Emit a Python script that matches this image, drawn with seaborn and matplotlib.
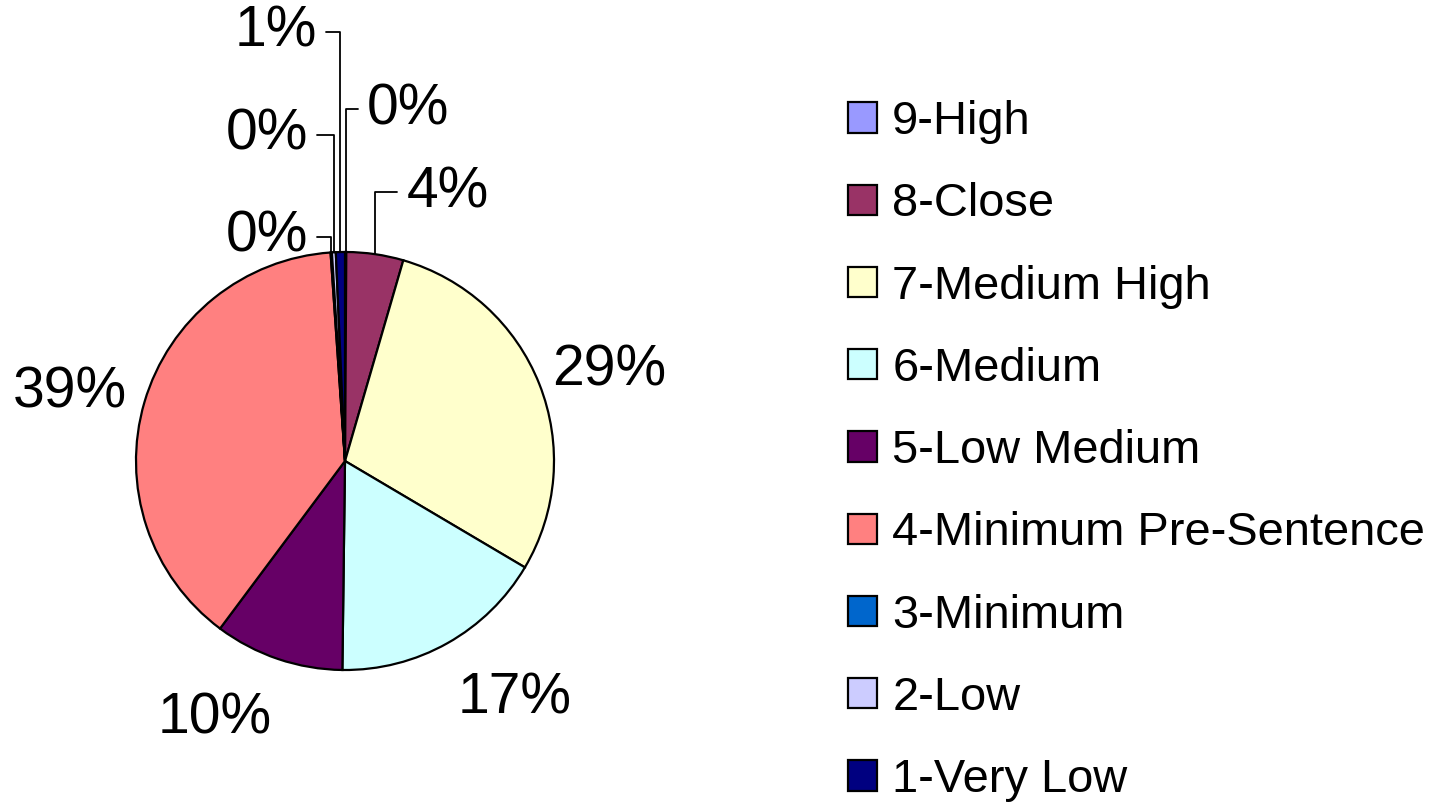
import numpy as np
import matplotlib
matplotlib.use("Agg")
import matplotlib.pyplot as plt
import seaborn as sns

# data, clockwise from 12 o'clock
categories = ["9-High", "8-Close", "7-Medium High", "6-Medium", "5-Low Medium",
              "4-Minimum Pre-Sentence", "3-Minimum", "2-Low", "1-Very Low"]
shares = [0.1, 4.4, 29.0, 16.7, 10.0, 38.7, 0.1, 0.3, 0.7]
slice_colors = ["#9999FF", "#993366", "#FFFFCC", "#CCFFFF", "#660066",
                "#FF8080", "#0066CC", "#CCCCFF", "#000080"]

# label layout (pie radius = 1), and whether a leader line is drawn
label_pos = [(0.30, 1.684), (0.49, 1.287), (1.263, 0.435), (0.813, -1.134), (-0.622, -1.23),
             (-1.316, 0.33), (-0.373, 1.072), (-0.373, 1.56), (-0.33, 2.053)]
leader = [True, True, False, False, False, False, True, True, True]

sns.set_theme(style="white")
plt.rcParams["font.family"] = ["Liberation Sans", "DejaVu Sans"]
plt.rcParams["text.color"] = "black"

W, H = 1433, 811
cx, cy, R = 345, 461, 209
fig = plt.figure(figsize=(W / 100, H / 100), dpi=100)
ax = fig.add_axes([0, 0, 1, 1])

palette = sns.color_palette(slice_colors)
wedges, _ = ax.pie(shares, colors=palette, startangle=90, counterclock=False,
                   wedgeprops=dict(edgecolor="black", linewidth=1.6))
ax.set_xlim(-cx / R, (W - cx) / R)
ax.set_ylim(-(H - cy) / R, cy / R)
ax.set_aspect("equal")
ax.axis("off")

total = sum(shares)
for w, v, (tx, ty), has_line in zip(wedges, shares, label_pos, leader):
    txt = f"{round(v / total * 100):.0f}%"
    if has_line:
        mid = np.deg2rad((w.theta1 + w.theta2) / 2)
        px, py = np.cos(mid), np.sin(mid)
        ax.annotate(txt, xy=(px, py), xytext=(tx, ty), fontsize=41, ha="center", va="center",
                    color="black",
                    arrowprops=dict(arrowstyle="-", color="black", lw=1.3, shrinkA=4, shrinkB=0,
                                    connectionstyle="angle,angleA=0,angleB=90,rad=0"))
    else:
        ax.text(tx, ty, txt, fontsize=41, ha="center", va="center", color="black")

leg = ax.legend(wedges, categories, loc="upper left", bbox_to_anchor=(848 / W, 1 - 100 / H),
                bbox_transform=fig.transFigure, frameon=False, fontsize=33.8,
                handlelength=0.61, handleheight=0.61, handletextpad=0.33,
                labelspacing=0.815, borderaxespad=0, borderpad=0)
for t in leg.get_texts():
    t.set_color("black")

plt.savefig("out.png", dpi=100)
